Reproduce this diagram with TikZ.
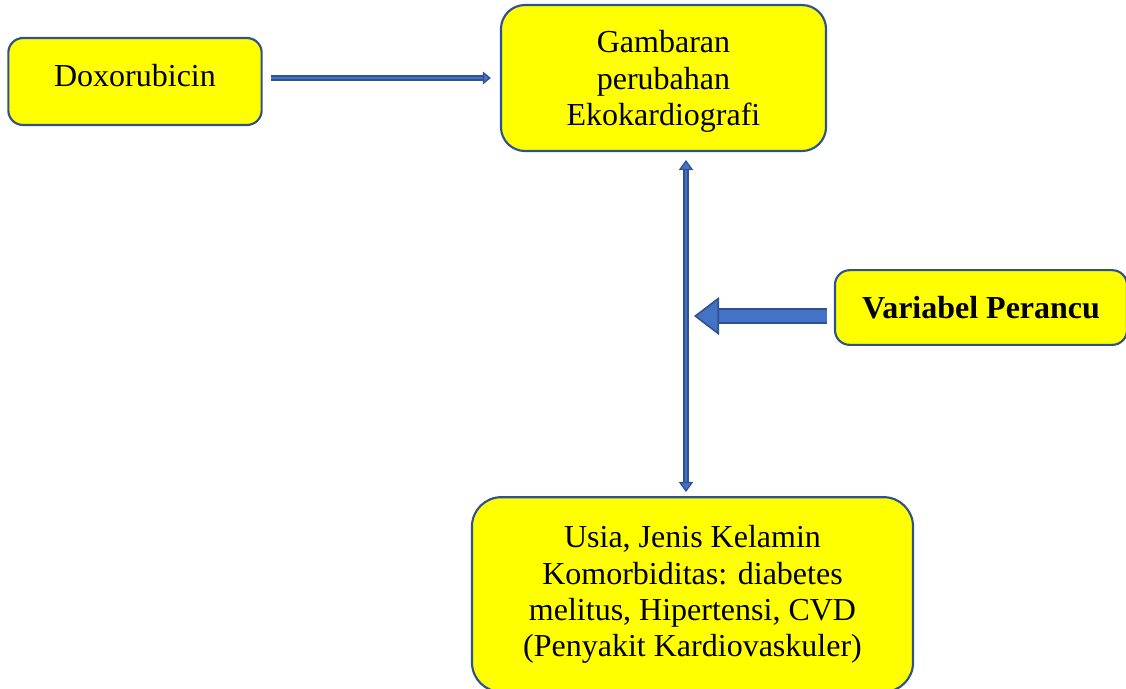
\documentclass[tikz,border=0pt]{standalone}
\usepackage{fontspec}
\setmainfont{Liberation Serif}
\usetikzlibrary{arrows.meta,positioning}
\definecolor{boxfill}{HTML}{FFFF00}
\definecolor{boxline}{HTML}{2F528F}
\definecolor{arrowfill}{HTML}{4472C4}
\tikzset{
box/.style={draw=boxline, fill=boxfill, line width=0.8pt, align=center, inner sep=0pt, font=\fontsize{12}{13.6}\selectfont}, % yellow boxes
thinarrow/.style={draw=boxline, double=arrowfill, line width=0.5pt, double distance=1pt},
blockarrow/.style={draw=boxline, double=arrowfill, line width=0.6pt, double distance=4.8pt},
}

\begin{document}
\begin{tikzpicture}[x=0.375pt,y=-0.375pt]
   \useasboundingbox (0,0) rectangle (1126,688);
   \node[box, rounded corners=5.5pt, minimum width=95pt, minimum height=32.6pt, text depth=4.5pt] (dox) at (135,81.5) {Doxorubicin};
   \node[box, rounded corners=9pt, minimum width=121.9pt, minimum height=54.75pt, text depth=0pt] (gam) at (663.5,78) {Gambaran\\perubahan\\Ekokardiografi};
   \node[box, rounded corners=5.5pt, minimum width=109.5pt, minimum height=28pt, font=\fontsize{12}{13.6}\selectfont\bfseries] (var) at (981,307.5) {Variabel Perancu};
   \node[box, rounded corners=11pt, minimum width=165.4pt, minimum height=73pt] (usia) at (692.5,594.5) {Usia, Jenis Kelamin\\Komorbiditas: diabetes\\melitus, Hipertensi, CVD\\(Penyakit Kardiovaskuler)};
   \coordinate (vt) at (686,160);
   \coordinate (vb) at (686,492);
   \draw[thinarrow, -{Triangle[length=3pt, width=4.8pt, fill=arrowfill, color=boxline]}, shorten <=3pt, shorten >=3.4pt] (gam.west -| dox.east) -- (gam.west);
   \draw[thinarrow, {Triangle[length=3.8pt, width=5.4pt, fill=arrowfill, color=boxline]}-{Triangle[length=3.8pt, width=5.4pt, fill=arrowfill, color=boxline]}] (vt) -- (vb);
   \draw[blockarrow, -{Triangle[length=9.4pt, width=14.2pt, fill=arrowfill, color=boxline, line width=0.6pt]}, shorten <=2.6pt, shorten >=3pt] ([yshift=-3.2pt]var.west) -- ([yshift=-3.2pt]var.west -| vt);
\end{tikzpicture}
\end{document}
